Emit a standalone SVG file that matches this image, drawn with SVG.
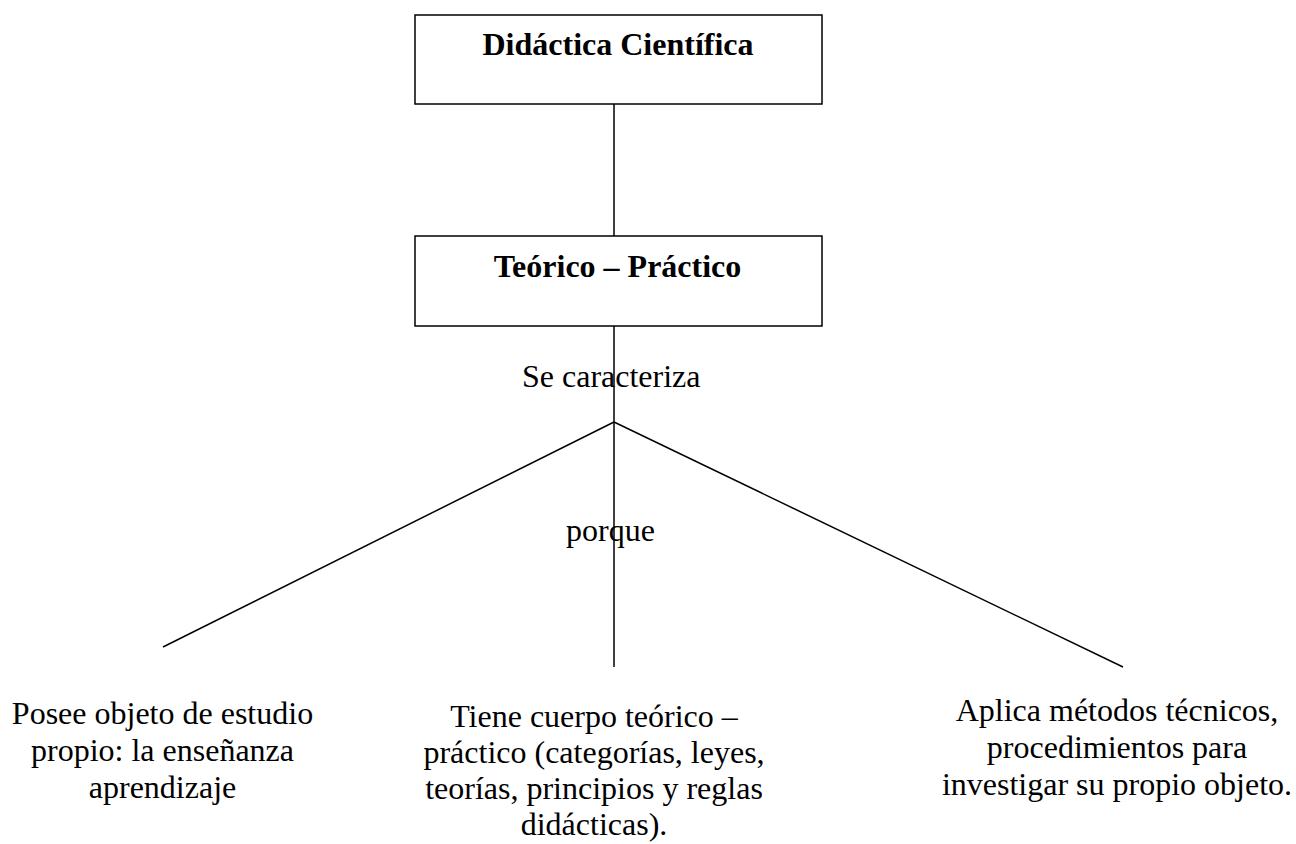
<svg xmlns="http://www.w3.org/2000/svg" width="1296" height="844" viewBox="0 0 1296 844">
<style>
text{font-family:"Liberation Serif","Times New Roman",serif;font-size:32px;fill:#000}
.b{font-weight:bold}
.box{fill:#fff;stroke:#000;stroke-width:1.5}
.ln{stroke:#000;stroke-width:1.5;fill:none}
</style>
<rect width="1296" height="844" fill="#fff"/>
<g id="connectors">
<text x="522" y="387">Se caracteriza</text>
<text x="566" y="541">porque</text>
<line class="ln" x1="614" y1="104" x2="614" y2="236"/>
<line class="ln" x1="614" y1="326" x2="614" y2="667"/>
<line class="ln" x1="614" y1="422" x2="163" y2="647"/>
<line class="ln" x1="614" y1="422" x2="1123" y2="667"/>
</g>
<g id="n1">
<rect class="box" x="415" y="15" width="407" height="89"/>
<text class="b" x="618" y="55" text-anchor="middle">Didáctica Científica</text>
</g>
<g id="n2">
<rect class="box" x="415" y="236" width="407" height="90"/>
<text class="b" x="617.5" y="277" text-anchor="middle">Teórico – Práctico</text>
</g>
<g id="n3" text-anchor="middle">
<text x="162.5" y="724">Posee objeto de estudio</text>
<text x="162.5" y="761">propio: la enseñanza</text>
<text x="162.5" y="798">aprendizaje</text>
</g>
<g id="n4" text-anchor="middle">
<text x="594" y="727">Tiene cuerpo teórico –</text>
<text x="594" y="763">práctico (categorías, leyes,</text>
<text x="594" y="799">teorías, principios y reglas</text>
<text x="594" y="835">didácticas).</text>
</g>
<g id="n5" text-anchor="middle">
<text x="1117" y="721">Aplica métodos técnicos,</text>
<text x="1117" y="758">procedimientos para</text>
<text x="1117" y="795">investigar su propio objeto.</text>
</g>
</svg>
